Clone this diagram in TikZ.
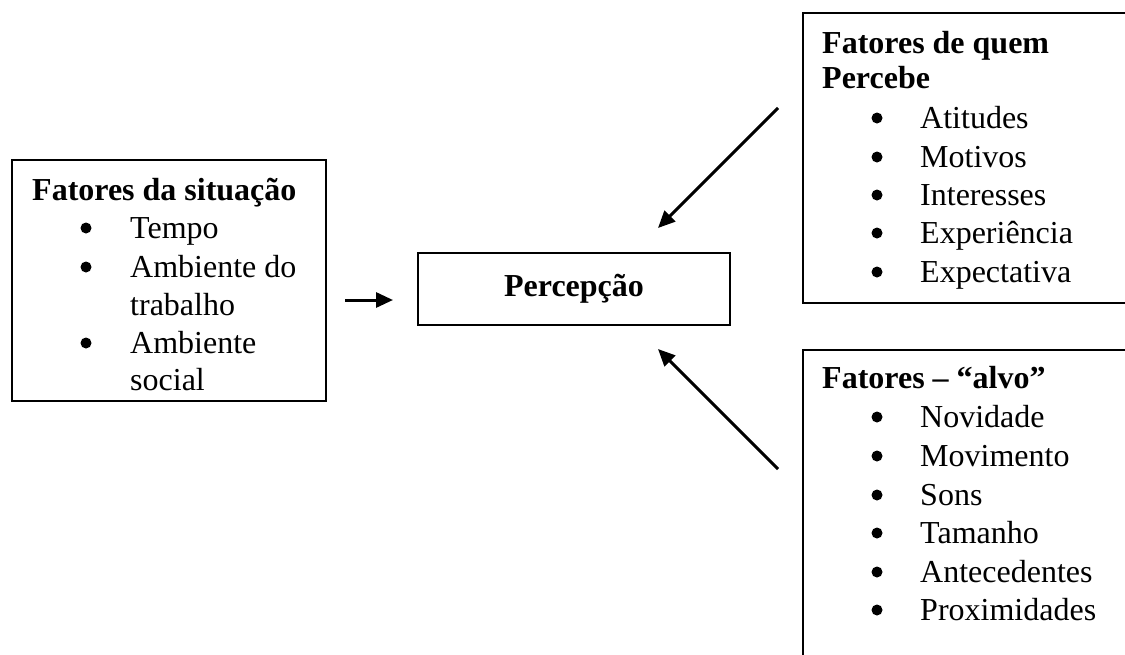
\documentclass[tikz,border=0pt]{standalone}
\usepackage{fontspec}
\setmainfont{Liberation Serif}
\usetikzlibrary{arrows.meta}
\tikzset{
 box/.style={draw, line width=2pt, inner sep=0, anchor=north west},
 txt/.style={anchor=base west, inner sep=0, font=\fontsize{32}{38}\selectfont},
 head/.style={anchor=base west, inner sep=0, font=\fontsize{32}{38}\selectfont\bfseries},
 dot/.style={circle, fill, inner sep=0, minimum size=11pt},
 conn/.style={line width=3pt, -{Triangle[length=17pt,width=15pt]}},
}
\begin{document}
\begin{tikzpicture}[x=1pt,y=-1pt]
\useasboundingbox (0,0) rectangle (1125,654);
\clip (0,0) rectangle (1125,654);
% boxes
\node[box, minimum width=314pt, minimum height=241pt] (sit) at (11,159) {};
\node[box, minimum width=340pt, minimum height=290pt] (quem) at (802,12) {};
\node[box, minimum width=340pt, minimum height=340pt] (alvo) at (802,349) {};
\node[draw, line width=2pt, minimum width=312pt, minimum height=72pt, inner sep=0,
      font=\fontsize{32}{38}\selectfont\bfseries] (perc) at (574,289) {Percepção};
% left box text
\node[head] (sith) at (32,200) {Fatores da situação};
\foreach \t/\y [count=\i] in {Tempo/238, Ambiente do/277, Ambiente/353}{
  \node[dot] (sitd\i) at (86,\y-10) {};
}
\foreach \t/\y [count=\i] in {Tempo/238, Ambiente do/277, trabalho/315, Ambiente/353, social/390}{
  \node[txt] (sitt\i) at (130,\y) {\t};
}
% top right text
\node[head] (quemh1) at (822,53) {Fatores de quem};
\node[head] (quemh2) at (822,88) {Percebe};
\foreach \t/\y [count=\i] in {Atitudes/128, Motivos/167, Interesses/205, Experiência/243, Expectativa/282}{
  \node[dot] (quemd\i) at (877,\y-10) {};
  \node[txt] (quemt\i) at (920,\y) {\t};
}
% bottom right text
\node[head] (alvoh) at (822,388) {Fatores – “alvo”};
\foreach \t/\y [count=\i] in {Novidade/427, Movimento/466, Sons/505, Tamanho/543, Antecedentes/582, Proximidades/620}{
  \node[dot] (alvod\i) at (877,\y-10) {};
  \node[txt] (alvot\i) at (920,\y) {\t};
}
% connectors
\coordinate (c1s) at (345,300);
\coordinate (c1e) at (393,300);
\coordinate (c2s) at (778,108);
\coordinate (c2e) at (658,228);
\coordinate (c3s) at (778,469);
\coordinate (c3e) at (658,349);
\draw[conn] (c1s) -- (c1e);
\draw[conn] (c2s) -- (c2e);
\draw[conn] (c3s) -- (c3e);
\end{tikzpicture}
\end{document}
